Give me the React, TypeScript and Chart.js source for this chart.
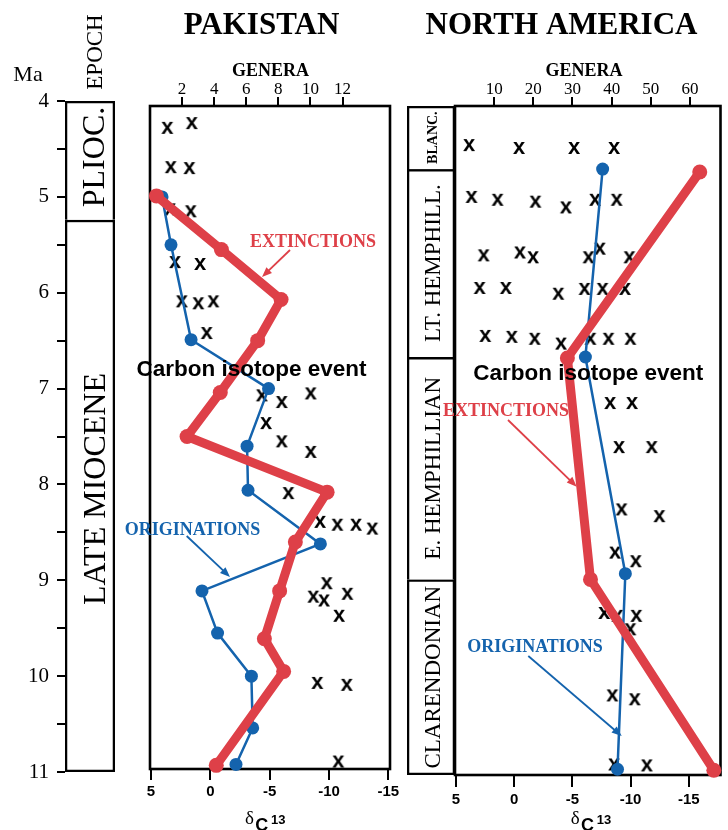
import React, { useEffect, useRef } from 'react';
import { Chart, registerables } from 'chart.js';

Chart.register(...registerables);

// ---------------- DATA ----------------
const MA_TICKS = [4, 4.5, 5, 5.5, 6, 6.5, 7, 7.5, 8, 8.5, 9, 9.5, 10, 10.5, 11];
const D13_TICKS = [5, 0, -5, -10, -15];
const PAK_GENERA_TICKS = [2, 4, 6, 8, 10, 12];
const NA_GENERA_TICKS = [10, 20, 30, 40, 50, 60];

const EPOCHS = ['PLIOC.', 'LATE MIOCENE'];
const EPOCH_TOP = [4, 5.24];
const EPOCH_BASE = [5.24, 11];

const NA_STAGES = ['BLANC.', 'LT. HEMPHILL.', 'E. HEMPHILLIAN', 'CLARENDONIAN'];
const NA_STAGE_TOP = [4.05, 4.71, 6.67, 8.99];
const NA_STAGE_BASE = [4.71, 6.67, 8.99, 11.03];

// Pakistan: extinctions / originations (genera) vs age (Ma)
const PAK_EXT_MA = [4.99, 5.55, 6.07, 6.5, 7.04, 7.5, 8.08, 8.6, 9.11, 9.61, 9.95, 10.93];
const PAK_EXT_GEN = [0.4, 4.45, 8.17, 6.71, 4.38, 2.31, 11.04, 9.06, 8.08, 7.13, 8.33, 4.13];
const PAK_ORIG_MA = [5.0, 5.5, 6.49, 7.0, 7.6, 8.06, 8.62, 9.11, 9.55, 10.0, 10.54, 10.92];
const PAK_ORIG_GEN = [0.75, 1.31, 2.56, 7.39, 6.05, 6.11, 10.62, 3.24, 4.21, 6.32, 6.4, 5.36];
// Pakistan: carbon isotope samples
const PAK_D13_MA = [4.28, 4.23, 4.69, 4.7, 5.13, 5.15, 5.68, 5.7, 6.09, 6.11, 6.09, 6.42, 7.07, 7.14, 7.05, 7.36,
  7.55, 7.66, 8.09, 8.39, 8.42, 8.42, 8.46, 9.03, 9.17, 9.21, 9.14, 9.37, 10.07, 10.09, 10.89];
const PAK_D13 = [3.63, 1.57, 3.34, 1.77, 3.4, 1.66, 2.98, 0.87, 2.41, 1.02, -0.25, 0.31, -4.33, -6.01, -8.45, -4.69,
  -6.01, -8.45, -6.57, -9.24, -10.7, -12.27, -13.64, -9.8, -8.67, -9.57, -11.54, -10.84, -9.01, -11.49, -10.78];

// North America
const NA_EXT_MA = [4.74, 6.68, 8.99, 10.98];
const NA_EXT_GEN = [62.5, 28.7, 34.6, 66.1];
const NA_ORIG_MA = [4.71, 6.67, 8.93, 10.97];
const NA_ORIG_GEN = [37.7, 33.3, 43.5, 41.5];
const NA_D13_MA = [4.46, 4.49, 4.49, 4.49, 5.0, 5.03, 5.05, 5.11, 5.03, 5.03, 5.61, 5.58, 5.63, 5.63, 5.54, 5.63,
  5.95, 5.95, 6.01, 5.96, 5.96, 5.96, 6.45, 6.46, 6.48, 6.53, 6.48, 6.48, 6.48, 7.15, 7.15, 7.61, 7.61, 8.26, 8.33,
  8.71, 8.8, 9.34, 9.37, 9.37, 9.51, 10.2, 10.24, 10.92, 10.93];
const NA_D13 = [3.88, -0.41, -5.14, -8.58, 3.67, 1.43, -1.82, -4.44, -6.94, -8.8, 2.63, -0.49, -1.62, -6.38, -7.36, -9.9,
  2.97, 0.72, -3.79, -6.04, -7.59, -9.51, 2.49, 0.21, -1.76, -4.02, -6.55, -8.1, -9.98, -8.24, -10.12, -9.0, -11.81,
  -9.22, -12.47, -8.66, -10.44, -7.73, -8.86, -10.49, -9.98, -8.43, -10.35, -8.58, -11.39];

// ---------------- STYLE ----------------
const SERIF = '"Liberation Serif", "Times New Roman", serif';
const SANS = '"Liberation Sans", Arial, sans-serif';
const RED = '#de4048';
const BLUE = '#1463ad';
const H = 830;

function drawTxt(ctx: any, t: string, x: number, y: number, font: string, cap: number, color = '#000', rot = false) {
  ctx.save();
  ctx.font = font;
  ctx.fillStyle = color;
  ctx.textAlign = 'center';
  ctx.textBaseline = 'alphabetic';
  ctx.translate(x, y);
  if (rot) ctx.rotate(-Math.PI / 2);
  ctx.fillText(t, 0, cap / 2);
  ctx.restore();
}

function arrow(ctx: any, x1: number, y1: number, x2: number, y2: number, color: string) {
  const a = Math.atan2(y2 - y1, x2 - x1);
  const L = 10, W = 4;
  ctx.save();
  ctx.strokeStyle = color;
  ctx.fillStyle = color;
  ctx.lineWidth = 1.8;
  ctx.beginPath();
  ctx.moveTo(x1, y1);
  ctx.lineTo(x2 - L * 0.7 * Math.cos(a), y2 - L * 0.7 * Math.sin(a));
  ctx.stroke();
  ctx.beginPath();
  ctx.moveTo(x2, y2);
  ctx.lineTo(x2 - L * Math.cos(a) + W * Math.sin(a), y2 - L * Math.sin(a) - W * Math.cos(a));
  ctx.lineTo(x2 - L * Math.cos(a) - W * Math.sin(a), y2 - L * Math.sin(a) + W * Math.cos(a));
  ctx.closePath();
  ctx.fill();
  ctx.restore();
}

function deltaLabel(ctx: any, x: number) {
  ctx.save();
  ctx.fillStyle = '#000';
  ctx.textAlign = 'left';
  ctx.textBaseline = 'alphabetic';
  ctx.font = `19px ${SERIF}`;
  ctx.fillText('δ', x, 824);
  ctx.font = `bold 18px ${SANS}`;
  ctx.fillText('C', x + 10.3, 831);
  ctx.font = `bold 13px ${SANS}`;
  ctx.fillText('13', x + 26, 824);
  ctx.restore();
}

function makeXGlyph() {
  const c = document.createElement('canvas');
  c.width = 18;
  c.height = 18;
  const g = c.getContext('2d')!;
  g.font = `bold 22px ${SANS}`;
  g.fillStyle = '#000';
  g.textAlign = 'center';
  g.textBaseline = 'alphabetic';
  const m = g.measureText('x');
  const asc = m.actualBoundingBoxAscent || 11;
  const desc = m.actualBoundingBoxDescent || 0;
  g.fillText('x', 9, 9 + (asc + desc) / 2 - desc);
  return c;
}

function pts(xs: number[], ys: number[]) {
  return xs.map((x, i) => ({ x, y: ys[i] }));
}

function framePlugin(offsetX: number, draw: (ctx: any) => void) {
  return {
    id: 'deco',
    beforeDatasetsDraw(chart: any) {
      const { ctx, chartArea: a } = chart;
      ctx.save();
      ctx.strokeStyle = '#000';
      ctx.lineWidth = 2.6;
      ctx.strokeRect(a.left, a.top, a.right - a.left, a.bottom - a.top);
      ctx.restore();
    },
    afterDraw(chart: any) {
      const ctx = chart.ctx;
      ctx.save();
      ctx.translate(-offsetX, 0);
      draw(ctx);
      ctx.restore();
    },
  };
}

function panelConfig(p: any) {
  const glyph = makeXGlyph();
  return {
    type: 'scatter',
    data: {
      datasets: [
        {
          label: 'EXTINCTIONS', data: pts(p.extGen, p.extMa), xAxisID: 'g', yAxisID: 'y', showLine: true,
          borderColor: RED, backgroundColor: RED, borderWidth: 9, pointRadius: 7.5, pointBorderWidth: 0,
          pointBackgroundColor: RED, borderJoinStyle: 'round', borderCapStyle: 'round', clip: false, order: 1,
        },
        {
          label: 'ORIGINATIONS', data: pts(p.origGen, p.origMa), xAxisID: 'g', yAxisID: 'y', showLine: true,
          borderColor: BLUE, backgroundColor: BLUE, borderWidth: 2.5, pointRadius: 6.5, pointBorderWidth: 0,
          pointBackgroundColor: BLUE, clip: false, order: 2,
        },
        {
          label: 'δC13', data: pts(p.d13, p.d13Ma), xAxisID: 'x', yAxisID: 'y', showLine: false,
          pointStyle: glyph, pointRadius: 6, clip: false, order: 3,
        },
      ],
    },
    options: {
      responsive: false, animation: false, events: [],
      layout: { padding: { left: p.padL, right: p.padR, top: 0, bottom: 0 } },
      plugins: { legend: { display: false }, tooltip: { enabled: false } },
      scales: {
        y: { display: false, min: p.yMin, max: p.yMax, reverse: true },
        g: {
          type: 'linear', position: 'top', min: 0, max: p.gMax,
          afterFit: (s: any) => { s.height = 106; },
          afterBuildTicks: (s: any) => { s.ticks = p.gTicks.map((v: number) => ({ value: v })); },
          ticks: { font: { family: SERIF, size: 17 }, color: '#000', padding: -3, autoSkip: false, maxRotation: 0 },
          grid: { drawOnChartArea: false, drawTicks: true, tickLength: 9, color: '#000', lineWidth: 2 },
          border: { display: false },
        },
        x: {
          type: 'linear', position: 'bottom', min: p.dMin, max: 5.08, reverse: true,
          afterFit: (s: any) => { s.height = H - p.bottom; },
          afterBuildTicks: (s: any) => { s.ticks = D13_TICKS.map((v) => ({ value: v })); },
          ticks: { font: { family: SANS, size: 15, weight: 'bold' }, color: '#000', padding: p.tickPad, autoSkip: false, maxRotation: 0 },
          grid: { drawOnChartArea: false, drawTicks: true, tickLength: p.tickLen, color: '#000', lineWidth: 2 },
          border: { display: false },
        },
      },
    },
    plugins: [framePlugin(p.left, p.deco)],
  };
}

function columnConfig(names: string[], tops: number[], bases: number[], yMin: number, yMax: number, pad: any, withAxis: boolean, plugin: any) {
  return {
    type: 'bar',
    data: {
      labels: ['col'],
      datasets: names.map((n, i) => ({
        label: n,
        data: [[tops[i], bases[i]]],
        backgroundColor: '#ffffff',
        borderColor: '#000',
        borderWidth: { top: 2.6, left: 2.6, right: 2.6, bottom: i === names.length - 1 ? 2.6 : 0 },
        borderSkipped: false,
        grouped: false,
        barPercentage: 1,
        categoryPercentage: 1,
      })),
    },
    options: {
      responsive: false, animation: false, events: [],
      layout: { padding: pad },
      plugins: { legend: { display: false }, tooltip: { enabled: false } },
      scales: {
        x: { display: false },
        y: withAxis
          ? {
              min: yMin, max: yMax, reverse: true,
              afterFit: (s: any) => { s.width = 65; },
              afterBuildTicks: (s: any) => { s.ticks = MA_TICKS.map((v) => ({ value: v })); },
              ticks: {
                callback: (v: number) => (Number.isInteger(v) ? String(v) : ''),
                font: { family: SERIF, size: 21 }, color: '#000', padding: 8, autoSkip: false,
              },
              grid: { drawOnChartArea: false, drawTicks: true, tickLength: 8, color: '#000', lineWidth: 2 },
              border: { display: false },
            }
          : { display: false, min: yMin, max: yMax, reverse: true },
      },
    },
    plugins: [plugin],
  };
}

function ChartCanvas({ left, width, make }: { left: number; width: number; make: () => any }) {
  const ref = useRef<HTMLCanvasElement>(null);
  useEffect(() => {
    const chart = new Chart(ref.current as HTMLCanvasElement, make());
    return () => chart.destroy();
  }, []);
  return (
    <canvas ref={ref} width={width} height={H}
      style={{ position: 'absolute', left, top: 0, width, height: H, display: 'block' }} />
  );
}

const epochMake = () =>
  columnConfig(EPOCHS, EPOCH_TOP, EPOCH_BASE, 4, 11, { top: 101, bottom: 58, left: 0, right: 15 }, true, {
    id: 'epochText',
    afterDraw(chart: any) {
      const ctx = chart.ctx;
      drawTxt(ctx, 'Ma', 28, 73.4, `22px ${SERIF}`, 14.5);
      drawTxt(ctx, 'EPOCH', 94, 52, `23px ${SERIF}`, 15.2, '#000', true);
      const pos = [[93, 157], [94.5, 489]];
      EPOCHS.forEach((n, i) => drawTxt(ctx, n, pos[i][0], pos[i][1], `32px ${SERIF}`, 21, '#000', true));
    },
  });

const STAGE_LEFT = 380;
const stageMake = () =>
  columnConfig(NA_STAGES, NA_STAGE_TOP, NA_STAGE_BASE, 4.05, 11.03, { top: 106, bottom: 55, left: 27, right: 5 }, false, {
    id: 'stageText',
    afterDraw(chart: any) {
      const ctx = chart.ctx;
      NA_STAGES.forEach((n, i) => {
        const bar = chart.getDatasetMeta(i).data[0];
        const cy = (bar.y + bar.base) / 2;
        const bold = i === 0;
        drawTxt(ctx, n, bar.x + 1, cy, bold ? `bold 14px ${SERIF}` : `23px ${SERIF}`, bold ? 9.3 : 15.2, '#000', true);
      });
    },
  });

const PAK_LEFT = 110;
const pakMake = () =>
  panelConfig({
    left: PAK_LEFT, padL: 40, padR: 20, bottom: 769, yMin: 4.052, yMax: 10.968, gMax: 14.96, dMin: -15.14,
    gTicks: PAK_GENERA_TICKS, tickLen: 11, tickPad: 3,
    extGen: PAK_EXT_GEN, extMa: PAK_EXT_MA, origGen: PAK_ORIG_GEN, origMa: PAK_ORIG_MA, d13: PAK_D13, d13Ma: PAK_D13_MA,
    deco: (ctx: any) => {
      drawTxt(ctx, 'PAKISTAN', 261.5, 23.5, `bold 31px ${SERIF}`, 20.5);
      drawTxt(ctx, 'GENERA', 270.5, 70, `bold 18px ${SERIF}`, 11.9);
      drawTxt(ctx, 'EXTINCTIONS', 313, 240.7, `bold 18px ${SERIF}`, 11.9, RED);
      arrow(ctx, 290, 250, 262, 277, RED);
      drawTxt(ctx, 'ORIGINATIONS', 192.5, 529, `bold 18px ${SERIF}`, 11.9, BLUE);
      arrow(ctx, 186.7, 536, 230, 577, BLUE);
      drawTxt(ctx, 'Carbon isotope event', 251.5, 368, `bold 22.5px ${SANS}`, 16.1);
      deltaLabel(ctx, 245);
    },
  });

const NA_LEFT = 395;
const naMake = () =>
  panelConfig({
    left: NA_LEFT, padL: 60, padR: 3, bottom: 775, yMin: 4.052, yMax: 11.03, gMax: 67.8, dMin: -17.73,
    gTicks: NA_GENERA_TICKS, tickLen: 12, tickPad: 4,
    extGen: NA_EXT_GEN, extMa: NA_EXT_MA, origGen: NA_ORIG_GEN, origMa: NA_ORIG_MA, d13: NA_D13, d13Ma: NA_D13_MA,
    deco: (ctx: any) => {
      drawTxt(ctx, 'NORTH AMERICA', 561.5, 23.5, `bold 31px ${SERIF}`, 20.5);
      drawTxt(ctx, 'GENERA', 584, 70, `bold 18px ${SERIF}`, 11.9);
      drawTxt(ctx, 'EXTINCTIONS', 506, 410, `bold 18px ${SERIF}`, 11.9, RED);
      arrow(ctx, 508, 420, 576.7, 486.7, RED);
      drawTxt(ctx, 'ORIGINATIONS', 535, 646, `bold 18px ${SERIF}`, 11.9, BLUE);
      arrow(ctx, 528.3, 656, 621.7, 736, BLUE);
      drawTxt(ctx, 'Carbon isotope event', 588.3, 371.7, `bold 22.5px ${SANS}`, 16.1);
      deltaLabel(ctx, 570.7);
    },
  });

export default function App() {
  return (
    <div style={{ position: 'absolute', left: 0, top: 0, width: 728, height: H, background: '#fff', overflow: 'hidden' }}>
      <ChartCanvas left={0} width={130} make={epochMake} />
      <ChartCanvas left={STAGE_LEFT} width={80} make={stageMake} />
      <ChartCanvas left={PAK_LEFT} width={300} make={pakMake} />
      <ChartCanvas left={NA_LEFT} width={333} make={naMake} />
    </div>
  );
}
